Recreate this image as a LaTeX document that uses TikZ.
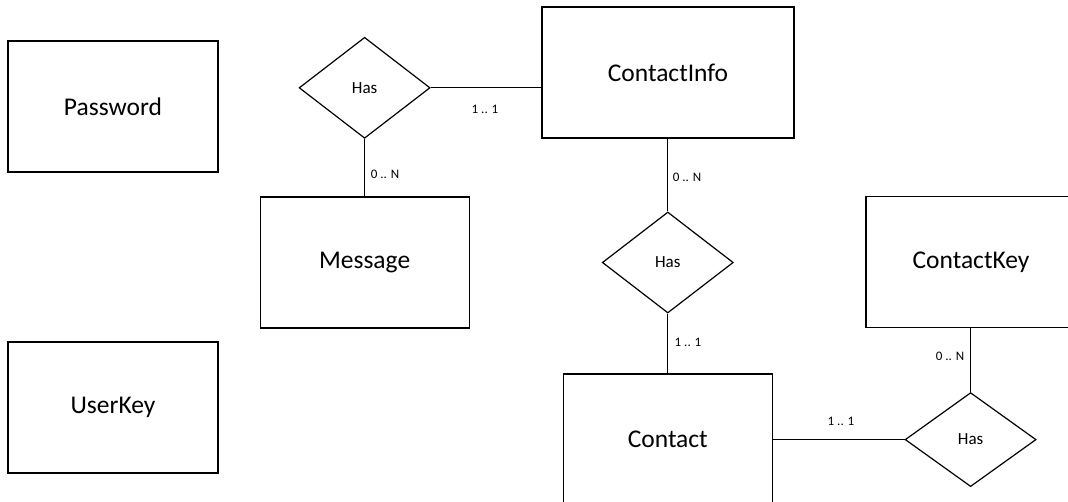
\documentclass[tikz,border=0pt]{standalone}
\usepackage{fontspec}
\setmainfont{Carlito}
\usetikzlibrary{shapes.geometric}
\begin{document}
\begin{tikzpicture}[x=1pt,y=-1pt,
  entity/.style={draw=black, line width=1.2pt, rectangle, inner sep=0pt,
    minimum width=210pt, minimum height=131pt, font=\fontsize{25.5}{30}\selectfont},
  rel/.style={draw=black, line width=1.2pt, diamond, inner sep=0pt,
    minimum width=131pt, minimum height=101pt, font=\fontsize{17}{20}\selectfont},
  lbl/.style={inner sep=0pt, font=\fontsize{13}{15}\selectfont},
  conn/.style={draw=black, line width=1.2pt}]
\useasboundingbox (0,0) rectangle (1068,501);
\clip (0,0) rectangle (1068,501);
% entities
\node[entity] (pw) at (113,106.5) {Password};
\node[entity] (uk) at (113,407.5) {UserKey};
\node[entity, minimum width=209pt] (msg) at (364.6,262.5) {Message};
\node[entity, minimum width=252pt] (ci) at (668,72.5) {ContactInfo};
\node[entity, minimum width=209pt] (ct) at (667.8,439.5) {Contact};
\node[entity] (ck) at (971,262) {ContactKey};
% relationships
\node[rel] (h1) at (364.6,87.8) {Has};
\node[rel] (h2) at (667.8,262.5) {Has};
\node[rel, minimum height=94pt] (h3) at (970.6,439.6) {Has};
% connectors
\draw[conn] (h1.east) -- (h1.east -| ci.west);
\draw[conn] (h1.south) -- (h1.south |- msg.north);
\draw[conn] (ci.south -| h2.north) -- (h2.north);
\draw[conn] (h2.south) -- (h2.south |- ct.north);
\draw[conn] (ct.east |- h3.west) -- (h3.west);
\draw[conn] (ck.south -| h3.north) -- (h3.north);
% cardinality labels
\node[lbl] (l1) at (485,109.3) {1 .. 1};
\node[lbl] (l2) at (385,174) {0 .. N};
\node[lbl] (l3) at (687,177) {0 .. N};
\node[lbl] (l4) at (688,342) {1 .. 1};
\node[lbl] (l5) at (841,421) {1 .. 1};
\node[lbl] (l6) at (950,356) {0 .. N};
\end{tikzpicture}
\end{document}
